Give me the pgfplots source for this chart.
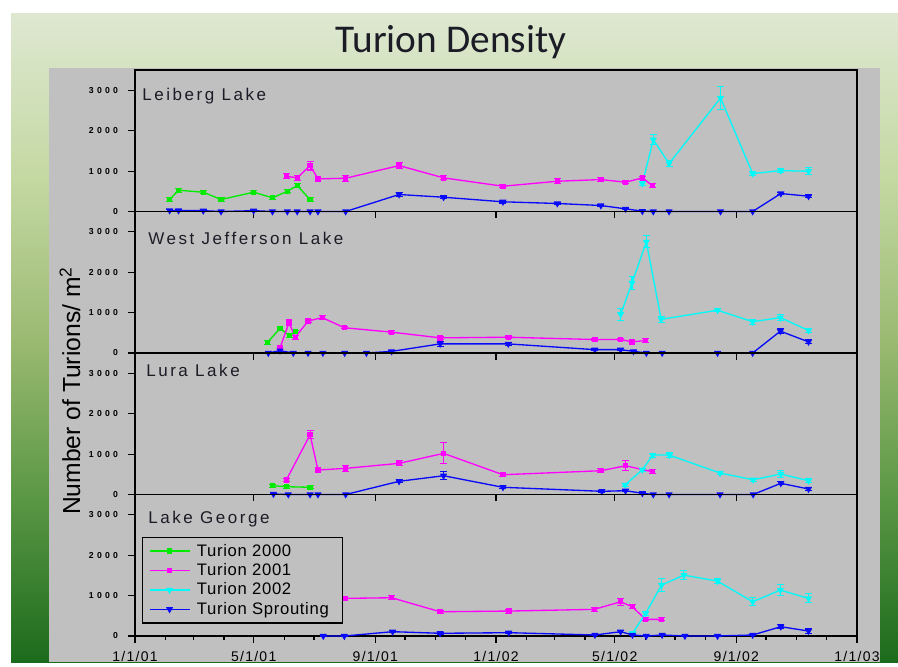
\documentclass[border=0pt]{standalone}
\usepackage{fontspec}
\setmainfont{Liberation Sans}
\newfontfamily\titlefont{Carlito}
\usepackage{pgfplots}
\pgfplotsset{compat=1.18}

\definecolor{c2000}{RGB}{0,235,0}
\definecolor{c2001}{RGB}{255,0,255}
\definecolor{c2002}{RGB}{0,250,250}
\definecolor{cspr}{RGB}{10,10,250}
\definecolor{plotgray}{RGB}{192,192,192}
\definecolor{labcol}{RGB}{28,28,38}

\pgfdeclareverticalshading{slidebg}{100bp}{rgb(0bp)=(0.11,0.42,0.11); rgb(25bp)=(0.11,0.42,0.11); rgb(37.5bp)=(0.35,0.59,0.27); rgb(50bp)=(0.61,0.73,0.45); rgb(62.5bp)=(0.77,0.85,0.64); rgb(75bp)=(0.87,0.91,0.82); rgb(100bp)=(0.87,0.91,0.82)}

\pgfplotsset{
  panel/.style={
    scale only axis, width=541.5pt, height=106.125pt, anchor=south west,
    xmin=0, xmax=730, ymin=0, ymax=3500, clip=false,
    axis line style={line width=1.1pt},
    xtick={0,120,243,365,485,608,730}, xticklabels={},
    ytick={0,1000,2000,3000}, yticklabels={0,1000,2000,3000},
    tick align=outside, xtick pos=bottom, ytick pos=left,
    major tick length=5pt, minor tick length=3pt,
    tick style={black, line width=0.8pt},
    yticklabel style={font=\fontsize{6.5}{7}\selectfont\bfseries\addfontfeature{LetterSpace=38}, inner sep=1pt, xshift=-6.5pt},
  },
  ebar/.style={error bars/y dir=both, error bars/y explicit,
    error bars/error bar style={line width=0.8pt},
    error bars/error mark options={rotate=90, line width=0.8pt, mark size=2.6pt}},
  s2000/.style={c2000, line width=1pt, mark=square*, mark size=1.5pt, ebar},
  s2001/.style={c2001, line width=1pt, mark=square*, mark size=1.5pt, ebar},
  s2002/.style={c2002, line width=1pt, mark=triangle*, mark size=2.1pt, mark options={rotate=180}, ebar},
  sspr/.style={cspr, line width=1pt, mark=triangle*, mark size=2.1pt, mark options={rotate=180}, ebar},
}

\begin{document}
\begin{tikzpicture}
\begin{scope}[x=0.75pt,y=0.75pt]
\useasboundingbox (0,0) rectangle (898,662);
\fill[white] (0,0) rectangle (898,662);
\shade[shading=slidebg] (11,0) rectangle (898,648);
\fill[plotgray] (49,0) rectangle (880,594);
\node[font=\titlefont\fontsize{29.5}{32}\selectfont, text=labcol, anchor=base] at (451,609) {Turion Density};
\node[rotate=90, font=\fontsize{18.5}{20}\selectfont, text=black] at (70,271) {Number of Turions/ m\textsuperscript{2}};
\end{scope}

% Leiberg Lake
\begin{axis}[panel, at={(101.25pt,337.875pt)}]
\addplot[s2000] coordinates {(35,296)+-(0,40) (44,526)+-(0,50) (69,477)+-(0,40) (87,296)+-(0,40) (120,477)+-(0,40) (139,338)+-(0,40) (154,501)+-(0,40) (164,642)+-(0,60) (177,296)+-(0,50)};
\addplot[s2001] coordinates {(153,872)+-(0,60) (164,832)+-(0,60) (177,1136)+-(0,110) (185,807)+-(0,40) (213,822)+-(0,70) (267,1136)+-(0,80) (312,832)+-(0,50) (372,625)+-(0,40) (427,748)+-(0,60) (471,790)+-(0,50) (496,724)+-(0,40) (513,832)+-(0,40) (523,642)+-(0,60)};
\addplot[s2002] coordinates {(513,691)+-(0,40) (524,1778)+-(0,125) (540,1185)+-(0,70) (592,2807)+-(0,275) (624.5,938)+-(0,40) (653,1012)+-(0,50) (681,995)+-(0,90)};
\addplot[sspr] coordinates {(35,25)+-(0,20) (44,25)+-(0,20) (69,20)+-(0,20) (87,0)+-(0,10) (120,20)+-(0,20) (139,0)+-(0,10) (154,0)+-(0,10) (164,0)+-(0,10) (177,0)+-(0,10) (185,0)+-(0,10) (213,0)+-(0,10) (267,420)+-(0,40) (312,353)+-(0,30) (372,240)+-(0,30) (427,198)+-(0,30) (471,148)+-(0,30) (496,66)+-(0,20) (513,8)+-(0,10) (524,0)+-(0,10) (540,0)+-(0,10) (592,0)+-(0,10) (624.5,0)+-(0,10) (653,444)+-(0,30) (681,378)+-(0,30)};
\end{axis}

% West Jefferson Lake
\begin{axis}[panel, at={(101.25pt,231.75pt)}]
\addplot[s2000] coordinates {(134,265)+-(0,50) (146.6,607)+-(0,40) (156,432)+-(0,40) (162,525)+-(0,40)};
\addplot[s2001] coordinates {(146.6,125)+-(0,50) (155.7,750)+-(0,70) (162,390)+-(0,50) (175,790)+-(0,40) (189.4,875)+-(0,50) (211.6,625)+-(0,30) (259.5,515)+-(0,30) (308.5,375)+-(0,30) (377.4,390)+-(0,30) (465,333)+-(0,30) (491,333)+-(0,30) (502.5,275)+-(0,40) (516,308)+-(0,40)};
\addplot[s2002] coordinates {(491,957)+-(0,150) (502.5,1733)+-(0,170) (517,2750)+-(0,150) (532,833)+-(0,70) (589,1058)+-(0,40) (624.5,775)+-(0,60) (652.5,875)+-(0,70) (681,558)+-(0,50)};
\addplot[sspr] coordinates {(134.8,0)+-(0,10) (146.6,58)+-(0,20) (160,0)+-(0,10) (175,0)+-(0,10) (190,0)+-(0,10) (212,0)+-(0,10) (234,0)+-(0,10) (259.5,40)+-(0,20) (308.5,225)+-(0,60) (377.4,225)+-(0,30) (465,83)+-(0,20) (491,83)+-(0,20) (504,40)+-(0,20) (517,0)+-(0,10) (533,0)+-(0,10) (589,0)+-(0,10) (624.5,0)+-(0,10) (652.5,540)+-(0,60) (681,275)+-(0,50)};
\end{axis}

% Lura Lake
\begin{axis}[panel, at={(101.25pt,125.625pt)}]
\addplot[s2000] coordinates {(139,217)+-(0,40) (153,193)+-(0,40) (177,178)+-(0,40)};
\addplot[s2001] coordinates {(153,358)+-(0,40) (177,1477)+-(0,100) (185,605)+-(0,50) (213,647)+-(0,70) (267,770)+-(0,60) (312,1017)+-(0,260) (372,489)+-(0,40) (471,588)+-(0,50) (496,711)+-(0,120) (523,563)+-(0,50)};
\addplot[s2002] coordinates {(495.5,235)+-(0,30) (513,613)+-(0,40) (523.4,975)+-(0,50) (540.3,975)+-(0,60) (591.5,531)+-(0,40) (625,365)+-(0,40) (653,506)+-(0,90) (681,341)+-(0,50)};
\addplot[sspr] coordinates {(140,12)+-(0,10) (155,0)+-(0,10) (177,0)+-(0,10) (185,0)+-(0,10) (213,0)+-(0,10) (267,326)+-(0,40) (312,464)+-(0,100) (372,178)+-(0,20) (472,79)+-(0,20) (496,94)+-(0,20) (513,30)+-(0,10) (524,0)+-(0,10) (540,0)+-(0,10) (591.5,0)+-(0,10) (625,0)+-(0,10) (653,277)+-(0,40) (681,136)+-(0,40)};
\end{axis}

% Lake George
\begin{axis}[panel, at={(101.25pt,19.5pt)},
  xticklabels={1/1/01,5/1/01,9/1/01,1/1/02,5/1/02,9/1/02,1/1/03},
  xticklabel style={font=\fontsize{10.5}{12}\selectfont\addfontfeature{LetterSpace=9}, yshift=-3pt},
  minor xtick={31,59,90,151,181,212,273,304,334,396,424,455,516,546,577,638,669,699},
  legend style={at={(0.0093,0.701)}, anchor=north west, fill=plotgray, draw=black, line width=0.8pt,
    font=\fontsize{12.5}{14}\selectfont\addfontfeature{LetterSpace=4}, row sep=0pt, inner xsep=5pt, inner ysep=3pt,
    nodes={inner xsep=5pt}},
  legend cell align=left,
  legend image code/.code={\draw[mark repeat=2,mark phase=2,#1] plot coordinates {(0pt,0pt) (15pt,0pt) (30pt,0pt)};},
]
\addlegendimage{s2000}
\addlegendimage{s2001}
\addlegendimage{s2002}
\addlegendimage{sspr}
\addplot[s2001, forget plot] coordinates {(212.3,931)+-(0,50) (259.5,946)+-(0,50) (308.5,600)+-(0,40) (378,617)+-(0,50) (464.4,659)+-(0,50) (491,847)+-(0,90) (502.7,723)+-(0,50) (516.3,412)+-(0,40) (532.4,412)+-(0,40)};
\addplot[s2002, forget plot] coordinates {(503,67)+-(0,30) (516.3,560)+-(0,50) (532.4,1260)+-(0,165) (555,1506)+-(0,110) (589,1358)+-(0,60) (624.5,847)+-(0,100) (652.5,1136)+-(0,130) (681,930)+-(0,110)};
\addplot[sspr, forget plot] coordinates {(190.4,0)+-(0,10) (211.6,0)+-(0,10) (260.5,107)+-(0,20) (308.5,67)+-(0,20) (378,82)+-(0,20) (465,25)+-(0,10) (491,107)+-(0,20) (503,25)+-(0,10) (517,0)+-(0,10) (533,25)+-(0,10) (556,0)+-(0,10) (589,0)+-(0,10) (624.5,25)+-(0,10) (653,230)+-(0,50) (681,123)+-(0,50)};
\legend{Turion 2000, Turion 2001, Turion 2002, Turion Sprouting}
\end{axis}

\begin{scope}[x=0.75pt,y=0.75pt, every node/.style={anchor=base west, inner sep=0pt, text=labcol, font=\fontsize{12.75}{14}\selectfont\addfontfeature{LetterSpace=15}}]
\node at (142,561.3) {Leiberg Lake};
\node at (148,417.7) {West Jefferson Lake};
\node at (146,285.3) {Lura Lake};
\node at (148,138) {Lake George};
\end{scope}
\end{tikzpicture}
\end{document}
